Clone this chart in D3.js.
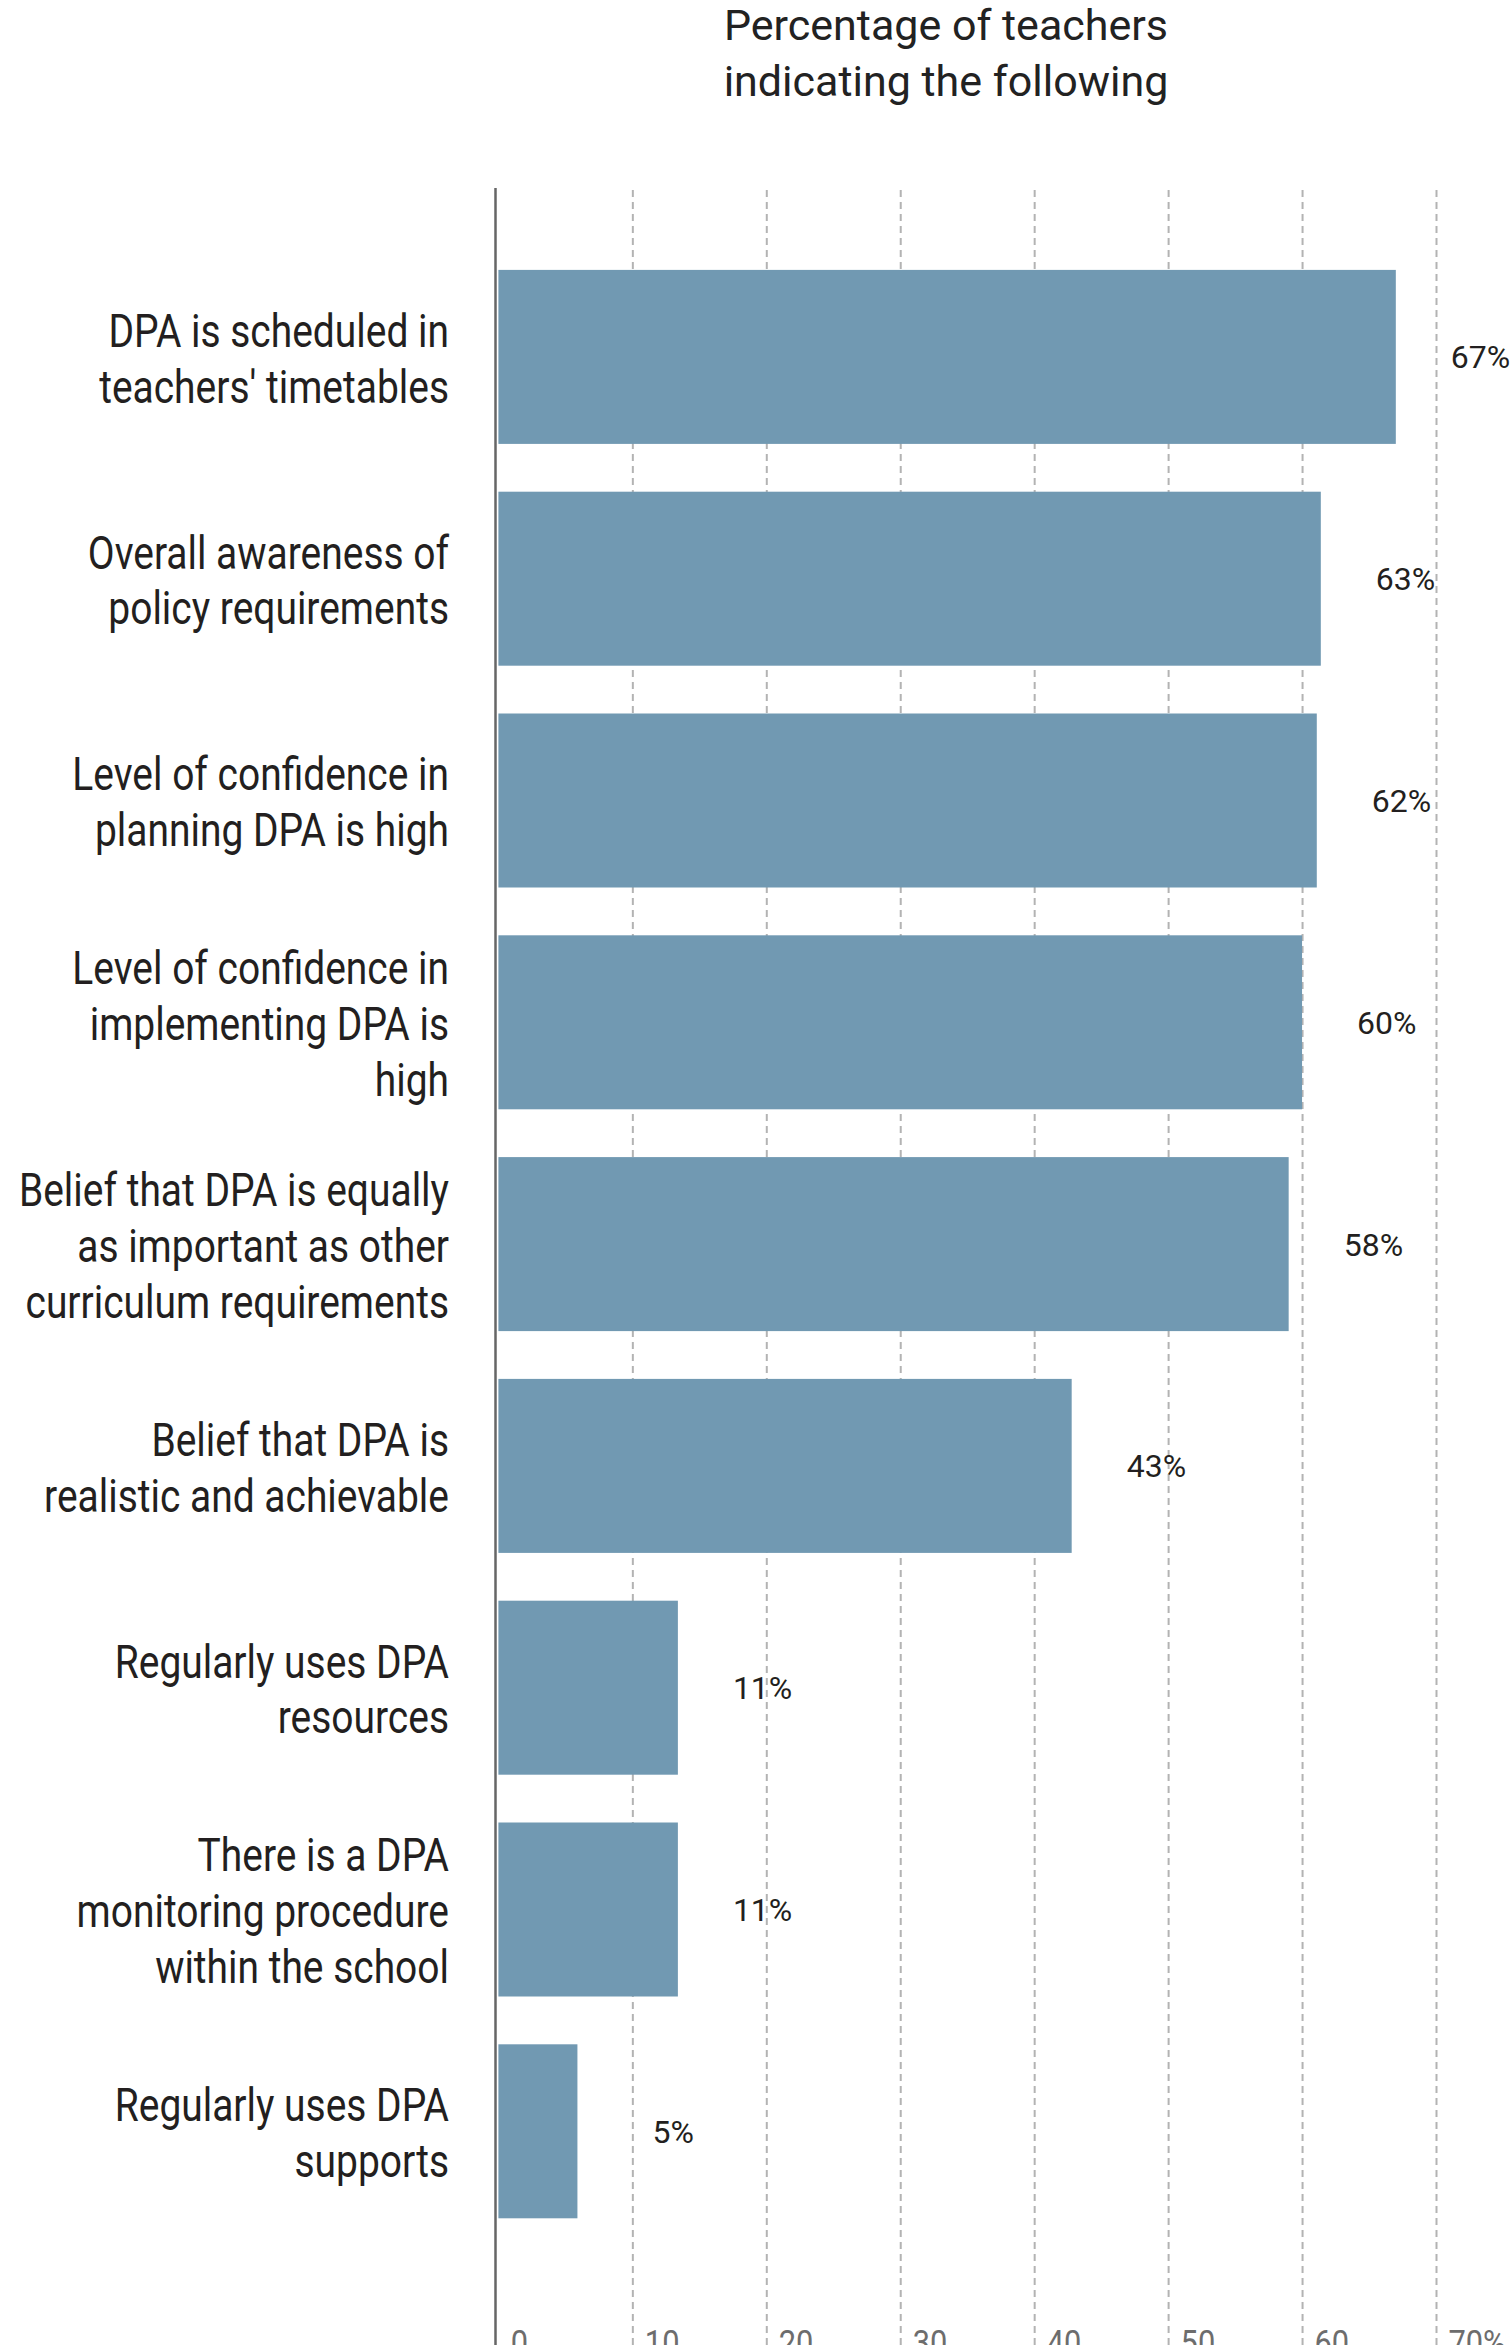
<!DOCTYPE html>
<html>
<head>
<meta charset="utf-8">
<script src="https://cdn.jsdelivr.net/npm/d3@7"></script>
<style>
  html, body { margin: 0; padding: 0; background: #fff; overflow: hidden; }
  svg { display: block; font-family: Roboto, "Open Sans", sans-serif; }
</style>
</head>
<body>
<div id="chart"></div>
<script>
// data
var categories = [
  ["DPA is scheduled in", "teachers' timetables"],
  ["Overall awareness of", "policy requirements"],
  ["Level of confidence in", "planning DPA is high"],
  ["Level of confidence in", "implementing DPA is", "high"],
  ["Belief that DPA is equally", "as important as other", "curriculum requirements"],
  ["Belief that DPA is", "realistic and achievable"],
  ["Regularly uses DPA", "resources"],
  ["There is a DPA", "monitoring procedure", "within the school"],
  ["Regularly uses DPA", "supports"]
];
var values = [67, 61.4, 61.1, 60.0, 59.0, 42.8, 13.4, 13.4, 5.9];
var valueLabels = ["67%", "63%", "62%", "60%", "58%", "43%", "11%", "11%", "5%"];
var tickValues = [0, 10, 20, 30, 40, 50, 60, 70];
var titleLines = ["Percentage of teachers", "indicating the following"];

var W = 1512, H = 2345;
var narrow = 0.856;   // fake a condensed face

var svg = d3.select("#chart")
  .append("svg")
    .attr("width", W)
    .attr("height", H);

var x = d3.scaleLinear()
  .domain([0, 70])
  .range([498.4, 1436]);

var y = d3.scaleBand()
  .domain(d3.range(categories.length))
  .range([246, 2242.2])
  .paddingInner(0.2155)
  .paddingOuter(0.10775);

// title
svg.append("text")
  .attr("x", 946)
  .attr("y", 40)
  .attr("text-anchor", "middle")
  .attr("font-size", 43)
  .attr("fill", "#222")
  .selectAll("tspan")
  .data(titleLines)
  .enter()
  .append("tspan")
    .attr("x", 946)
    .attr("dy", function(d, i) { return i ? 55.7 : 0; })
    .text(function(d) { return d; });

// dashed gridlines
var grid = svg.append("g")
  .attr("transform", "translate(0," + H + ")")
  .call(d3.axisBottom(x)
    .tickValues(tickValues.filter(function(d) { return d > 0; }))
    .tickSize(-(H - 188))
    .tickFormat(""));
grid.select(".domain").remove();
grid.selectAll(".tick line")
  .attr("stroke", "#b3b3b3")
  .attr("stroke-width", 2)
  .attr("stroke-dasharray", "7,5");

// bars
svg.selectAll("rect.bar")
  .data(values)
  .enter()
  .append("rect")
    .attr("class", "bar")
    .attr("x", x(0))
    .attr("y", function(d, i) { return y(i); })
    .attr("width", function(d) { return x(d) - x(0); })
    .attr("height", y.bandwidth())
    .attr("fill", "#7199b2");

// vertical axis line
svg.append("line")
  .attr("x1", 495.5).attr("x2", 495.5)
  .attr("y1", 188).attr("y2", H)
  .attr("stroke", "#666")
  .attr("stroke-width", 2.5);

// category labels
var lineGap = 56;
svg.selectAll("text.cat")
  .data(categories)
  .enter()
  .append("text")
    .attr("class", "cat")
    .attr("transform", function(d, i) {
      var cy = y(i) + y.bandwidth() / 2;
      var first = cy - (d.length - 1) * lineGap / 2 + 17.8;
      return "translate(449," + first + ") scale(" + narrow + ",1)";
    })
    .attr("text-anchor", "end")
    .attr("font-size", 45.5)
    .attr("fill", "#231f20")
    .each(function(d) {
      d3.select(this).selectAll("tspan")
        .data(d)
        .enter()
        .append("tspan")
          .attr("x", 0)
          .attr("y", function(t, j) { return j * lineGap; })
          .text(function(t) { return t; });
    });

// value labels (short bars keep their label clear of the first gridline)
svg.selectAll("text.val")
  .data(values)
  .enter()
  .append("text")
    .attr("class", "val")
    .attr("x", function(d) { return Math.max(x(d) + 55, x(11.5)); })
    .attr("y", function(d, i) { return y(i) + y.bandwidth() / 2; })
    .attr("dy", "0.36em")
    .attr("font-size", 32)
    .attr("fill", "#231f20")
    .text(function(d, i) { return valueLabels[i]; });

// tick labels, cut by the bottom edge as in the original
var tickAxis = svg.append("g")
  .attr("transform", "translate(0,2329)")
  .call(d3.axisBottom(x)
    .tickValues(tickValues)
    .tickSize(0)
    .tickPadding(0)
    .tickFormat(function(d) { return d === 70 ? "70%" : d; }));
tickAxis.select(".domain").remove();
tickAxis.selectAll("text")
  .attr("text-anchor", "start")
  .attr("x", 14)
  .attr("font-family", "Roboto, sans-serif")
  .attr("font-size", 36)
  .attr("fill", "#6d6d6d")
  .attr("transform", "scale(" + narrow + ",1)");
</script>
</body>
</html>
